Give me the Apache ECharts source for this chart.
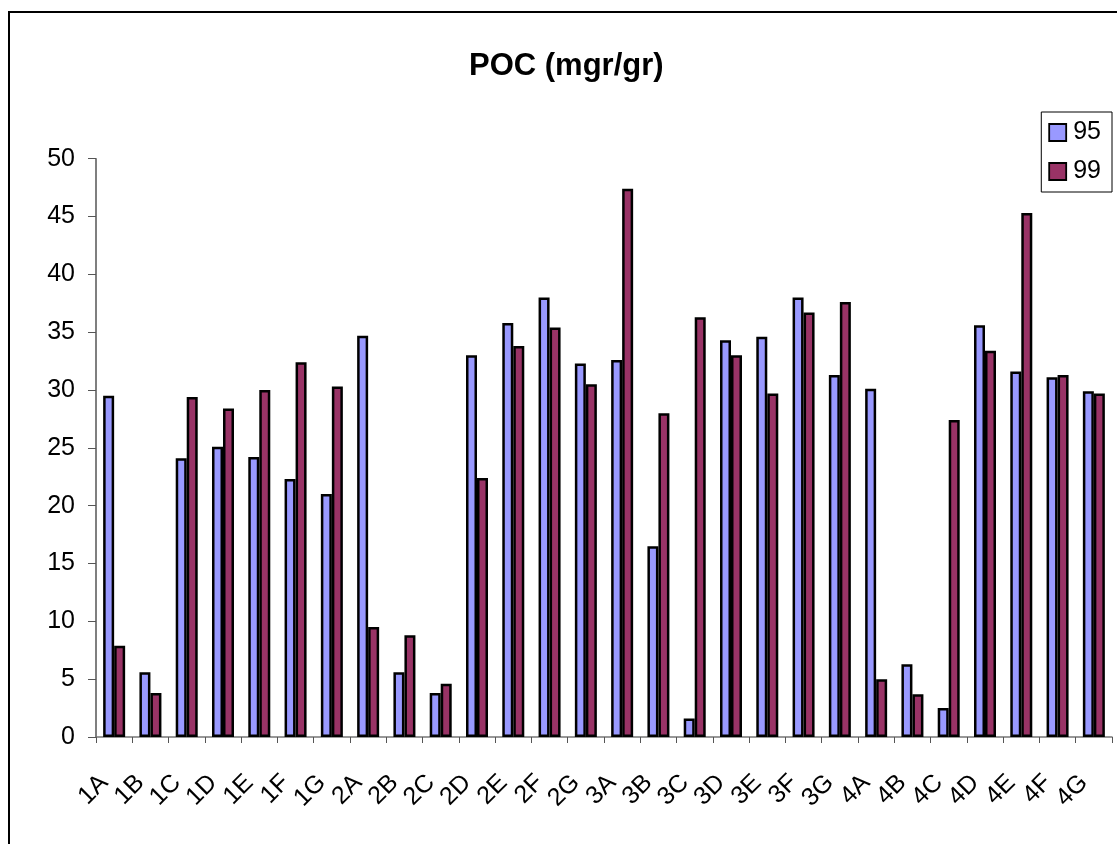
<!DOCTYPE html>
<html>
<head>
<meta charset="utf-8">
<script src="https://cdn.jsdelivr.net/npm/echarts@6/dist/echarts.min.js"></script>
<style>
html,body{margin:0;padding:0;background:#fff;}
#chart{width:1117px;height:844px;}
</style>
</head>
<body>
<div id="chart"></div>
<script>
const categories = ['1A','1B','1C','1D','1E','1F','1G','2A','2B','2C','2D','2E','2F','2G','3A','3B','3C','3D','3E','3F','3G','4A','4B','4C','4D','4E','4F','4G'];
const series95 = [29.5,5.6,24.1,25.1,24.2,22.3,21.0,34.7,5.6,3.8,33.0,35.8,38.0,32.3,32.6,16.5,1.6,34.3,34.6,38.0,31.3,30.1,6.3,2.5,35.6,31.6,31.1,29.9];
const series99 = [7.9,3.8,29.4,28.4,30.0,32.4,30.3,9.5,8.8,4.6,22.4,33.8,35.4,30.5,47.4,28.0,36.3,33.0,29.7,36.7,37.6,5.0,3.7,27.4,33.4,45.3,31.3,29.7];
const seriesNames = ['95','99'];
const titleText = 'POC (mgr/gr)';

const chart = echarts.init(document.getElementById('chart'), null, {renderer:'canvas'});
const font = 'Liberation Sans, Arial, sans-serif';
chart.setOption({
  animation:false,
  backgroundColor:'#fff',
  textStyle:{fontFamily:font},
  title:{text:titleText,left:469,top:51,padding:0,
    textStyle:{fontFamily:font,fontSize:31,fontWeight:'bold',color:'#000'}},
  legend:{
    orient:'vertical',right:5,top:112,align:'left',
    padding:[8,11,8,7],
    borderColor:'#000',borderWidth:1,
    itemWidth:17,itemHeight:17,itemGap:14,
    icon:'rect',
    itemStyle:{borderColor:'#000',borderWidth:1.8},
    textStyle:{fontFamily:font,fontSize:25,color:'#000',padding:[0,0,0,2]},
    data:seriesNames
  },
  graphic:[{type:'rect',shape:{x:9,y:12,width:1200,height:900},
    style:{fill:'none',stroke:'#000',lineWidth:2},silent:true,z:100}],
  grid:{left:96,right:5,top:158.7,bottom:107,containLabel:false},
  xAxis:{
    type:'category',data:categories,
    axisLine:{lineStyle:{color:'#777',width:1.5}},
    axisTick:{show:true,alignWithLabel:false,length:6,lineStyle:{color:'#555'}},
    axisLabel:{interval:0,rotate:45,margin:32,fontSize:25,color:'#000',fontFamily:font,
      padding:[0,14,16,0]}
  },
  yAxis:{
    type:'value',min:0,max:50,interval:5,
    axisLine:{show:true,lineStyle:{color:'#555',width:1.5}},
    axisTick:{show:true,length:8,lineStyle:{color:'#555'}},
    splitLine:{show:false},
    axisLabel:{margin:21,fontSize:25,color:'#000',fontFamily:font}
  },
  series:[
    {name:seriesNames[0],type:'bar',data:series95,barWidth:11,barGap:'0%',
     itemStyle:{color:'#9999FF',borderColor:'#000',borderWidth:2.5}},
    {name:seriesNames[1],type:'bar',data:series99,barWidth:11,barGap:'0%',
     itemStyle:{color:'#993366',borderColor:'#000',borderWidth:2.5}}
  ]
});
</script>
</body>
</html>
